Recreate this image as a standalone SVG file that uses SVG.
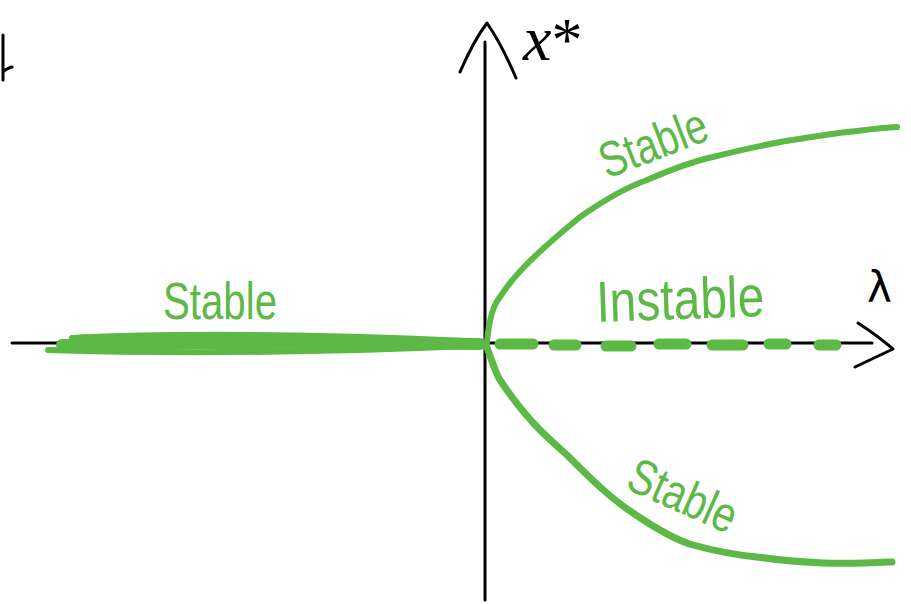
<svg xmlns="http://www.w3.org/2000/svg" width="911" height="604" viewBox="0 0 911 604">
<style>
.ax{stroke:#000;stroke-width:3;fill:none;stroke-linecap:round;stroke-linejoin:round}
.br{stroke:#5cb946;fill:none;stroke-linecap:round;stroke-linejoin:round}
.gl{font-family:"Liberation Sans","DejaVu Sans",sans-serif;fill:#5cb946}
.bl{fill:#000}
</style>
<rect width="911" height="604" fill="#fff"/>
<g id="axes">
  <path class="ax" d="M12,343 L872,343"/>
  <path class="ax" d="M858,323 Q878,336 893,349 Q874,358 855,367"/>
  <path class="ax" d="M485,42 L485,600"/>
  <path class="ax" d="M460,72 Q474,40 487,23 Q502,45 516,78"/>
  <path class="ax" d="M3,35 L3,80 M3,72 Q7,68 12,67"/>
</g>
<g id="stable-left">
  <path class="br" stroke-width="12" d="M62,345 C180,343 330,342 480,344"/>
  <path class="br" stroke-width="6" d="M72,338 C170,333 330,334 465,341"/>
  <path class="br" stroke-width="6" d="M48,350 C180,354 330,352 470,346"/>
  <path class="br" stroke-width="5" d="M80,337 C200,335 320,336 420,339"/>
</g>
<g id="stable-upper">
  <path class="br" stroke-width="6" d="M487,342 C489,320 493,305 500,297 C512,278 530,258 580,217 C610,196 630,186 647,180 C670,170 690,162 713,157 C740,150 760,146 780,142 C810,137 830,134 847,132 C865,130 880,128 897,127"/>
</g>
<g id="stable-lower">
  <path class="br" stroke-width="7" d="M486,345 C492,360 495,372 500,380 C512,398 525,415 540,430 C550,440 558,447 567,455 C590,478 610,498 633,513 C655,528 675,540 693,545 C715,551 735,555 757,557 C780,560 800,562 823,563 C850,564 870,563 892,562"/>
</g>
<g id="unstable">
  <g class="br" stroke-width="11">
    <path d="M500,344 L533,344"/>
    <path d="M554,345 L576,345"/>
    <path d="M606,346 L631,346"/>
    <path d="M659,344 L686,344"/>
    <path d="M712,345 L743,345"/>
    <path d="M769,344 L786,344"/>
    <path d="M819,345 L836,345"/>
  </g>
</g>
<g id="labels">
  <text class="gl" x="163" y="319" font-size="52" textLength="114" lengthAdjust="spacingAndGlyphs">Stable</text>
  <text class="gl" x="607" y="179" font-size="50" textLength="112" lengthAdjust="spacingAndGlyphs" transform="rotate(-21 607 179)">Stable</text>
  <text class="gl" x="624" y="488" font-size="50" textLength="114" lengthAdjust="spacingAndGlyphs" transform="rotate(24 624 488)">Stable</text>
  <text class="gl" x="597" y="322" font-size="58" textLength="168" lengthAdjust="spacingAndGlyphs" transform="rotate(-2 597 322)">Instable</text>
  <text class="bl" x="523" y="60" font-family="'Liberation Serif','DejaVu Serif',serif" font-style="italic" font-size="64">x<tspan font-style="normal" font-size="62" dx="0">*</tspan></text>
  <text class="bl" x="867" y="302" font-family="'DejaVu Sans',sans-serif" font-size="42">λ</text>
</g>
</svg>
